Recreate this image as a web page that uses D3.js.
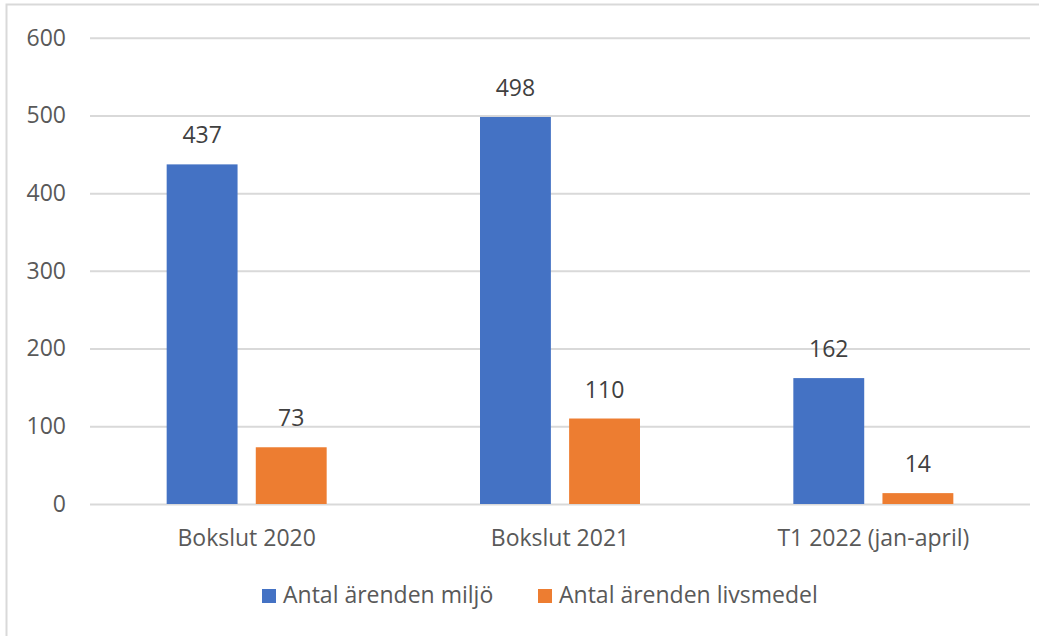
<!DOCTYPE html>
<html><head><meta charset="utf-8">
<script src="https://cdn.jsdelivr.net/npm/d3@7"></script>
<style>
body{margin:0;background:#fff;}
svg{display:block;font-family:"Open Sans",sans-serif;}
</style></head>
<body>
<svg id="c" width="1049" height="636"></svg>
<script>
const categories = ["Bokslut 2020", "Bokslut 2021", "T1 2022 (jan-april)"];
const seriesNames = ["Antal ärenden miljö", "Antal ärenden livsmedel"];
const miljo = [437, 498, 162];
const livsmedel = [73, 110, 14];
const yTicks = [0, 100, 200, 300, 400, 500, 600];
const colors = ["#4472C4", "#ED7D31"];

(function(){
const svg = d3.select("#c");
const pLeft = 90, pRight = 1030, pTop = 37.7, pBottom = 504;
const FS = 23;

// outer border
svg.append("path").attr("d", `M6.5,640 V4.5 H1039`).attr("fill","none").attr("stroke","#d9d9d9").attr("stroke-width",2);

const x = d3.scaleBand().domain(categories).range([pLeft, pRight]).paddingInner(0).paddingOuter(0);
const y = d3.scaleLinear().domain([0, 600]).range([pBottom, pTop]);
const sub = d3.scaleBand().domain(seriesNames).range([0, 160]).paddingInner(18/88).paddingOuter(0);

// gridlines
const grid = svg.append("g").attr("transform", `translate(${pLeft},0)`)
  .call(d3.axisLeft(y).tickValues(yTicks).tickSize(-(pRight-pLeft)).tickFormat(""));
grid.select(".domain").remove();
grid.selectAll(".tick line").attr("stroke", "#d9d9d9").attr("stroke-width", 2);

// y labels
const ya = svg.append("g").attr("transform", `translate(66,0)`)
  .call(d3.axisLeft(y).tickValues(yTicks).tickSize(0).tickPadding(0));
ya.select(".domain").remove();
ya.selectAll("text").attr("fill", "#595959").attr("font-size", FS).attr("font-family", "Open Sans");

const data = [miljo, livsmedel];
const groupOffset = (x.bandwidth() - 160) / 2;

seriesNames.forEach((s, si) => {
  const g = svg.append("g");
  g.selectAll("rect").data(categories).join("rect")
    .attr("x", (d) => x(d) + groupOffset + sub(s))
    .attr("y", (d, i) => y(data[si][i]))
    .attr("width", sub.bandwidth())
    .attr("height", (d, i) => y(0) - y(data[si][i]))
    .attr("fill", colors[si]);
  g.selectAll("text").data(categories).join("text")
    .attr("x", (d) => x(d) + groupOffset + sub(s) + sub.bandwidth()/2)
    .attr("y", (d, i) => y(data[si][i]) - 21)
    .attr("text-anchor", "middle")
    .attr("font-size", FS)
    .attr("fill", "#404040")
    .text((d, i) => data[si][i]);
});

// x axis labels
const xa = svg.append("g").attr("transform", `translate(0,${pBottom})`)
  .call(d3.axisBottom(x).tickSize(0).tickPadding(0));
xa.select(".domain").remove();
xa.selectAll("text").attr("fill", "#595959").attr("font-size", FS).attr("font-family", "Open Sans")
  .attr("dy", null).attr("y", 42);

// legend
const legendX = [262, 538];
const lg = svg.append("g");
seriesNames.forEach((s, i) => {
  lg.append("rect").attr("x", legendX[i]).attr("y", 589).attr("width", 14).attr("height", 14).attr("fill", colors[i]);
  lg.append("text").attr("x", legendX[i] + 21).attr("y", 603).attr("font-size", FS).attr("fill", "#595959").text(s);
});
})();
</script>
</body></html>
